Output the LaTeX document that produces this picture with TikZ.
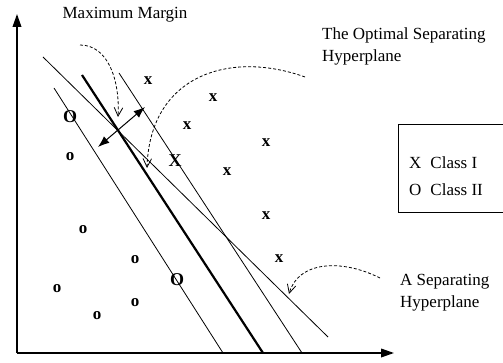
\documentclass[tikz,border=0pt]{standalone}
\usepackage{fontspec}
\setmainfont{Liberation Serif}
\usetikzlibrary{arrows.meta,positioning}
\tikzset{
  lbl/.style={font=\fontsize{17}{22}\selectfont, inner sep=0pt, align=left},
  mk/.style={font=\fontsize{17}{17}\selectfont\bfseries, inner sep=0pt},
  bigmk/.style={font=\fontsize{18}{18}\selectfont\bfseries, inner sep=0pt},
  hyp/.style={line width=0.8pt},
  opt/.style={line width=2.2pt},
  axis/.style={line width=1.6pt, -{Triangle[length=4.5mm,width=3mm]}},
  ptr/.style={dash pattern=on 3pt off 2pt, line width=0.8pt, -{Straight Barb[length=3mm,width=3mm]}},
  marg/.style={line width=1pt, {Latex[length=4mm,width=3mm]}-{Latex[length=4mm,width=3mm]}},
  legend/.style={draw, line width=1pt, minimum width=108pt, minimum height=88pt, inner sep=0pt}
}
\begin{document}
\begin{tikzpicture}[x=1pt,y=-1pt]
\clip (0,0) rectangle (503,363);

% axes
\coordinate (o) at (17,353);
\coordinate (xe) at (394,353);
\coordinate (ye) at (17,14);
\draw[axis] (o) -- (xe);
\draw[axis] (o) -- (ye);

% hyperplanes
\coordinate (h1) at (82,75);   \coordinate (h2) at (263,353);
\coordinate (l1) at (54,88);   \coordinate (l2) at (223,353);
\coordinate (r1) at (119,73);  \coordinate (r2) at (302,353);
\coordinate (s1) at (43,57);   \coordinate (s2) at (328,337);
\draw[opt] (h1) -- (h2);
\draw[hyp] (l1) -- (l2);
\draw[hyp] (r1) -- (r2);
\draw[hyp] (s1) -- (s2);

% margin
\coordinate (m1) at (98,147);
\coordinate (m2) at (145,107);
\draw[marg] (m1) -- (m2);

% class I
\foreach \p [count=\i] in {(148,81),(213,98),(187,126),(266,143),(227,172),(266,216),(279,259)}
  \node[mk] (x\i) at \p {x};
\node[bigmk] (bx) at (175,161) {X};

% class II
\foreach \p [count=\i] in {(70,157),(83,230),(135,260),(57,289),(135,303),(97,316)}
  \node[mk] (o\i) at \p {o};
\node[bigmk] (bo1) at (70,117) {O};
\node[bigmk] (bo2) at (177,280) {O};

% labels
\node[lbl] (mm) at (125,15) {Maximum Margin};
\node[lbl, anchor=west] (osh) at (322,46) {The Optimal Separating\\Hyperplane};
\node[lbl, anchor=west] (ash) at (400,293) {A Separating\\Hyperplane};

\coordinate (p1) at (80,45);   \coordinate (t1) at (118,117);
\coordinate (p2) at (305,77);  \coordinate (t2) at (147,168);
\coordinate (p3) at (380,278); \coordinate (t3) at (289,294);
\draw[ptr] (p1) .. controls (108,45) and (120,80) .. (t1);
\draw[ptr] (p2) .. controls (230,50) and (150,75) .. (t2);
\draw[ptr] (p3) .. controls (340,258) and (298,262) .. (t3);

% legend
\node[legend] (leg) at (452,169) {};
\node[lbl, anchor=west] (c1) at (409,163) {X\hspace{9pt}Class I};
\node[lbl, anchor=west] (c2) at (409,190) {O\hspace{9pt}Class II};
\end{tikzpicture}
\end{document}
